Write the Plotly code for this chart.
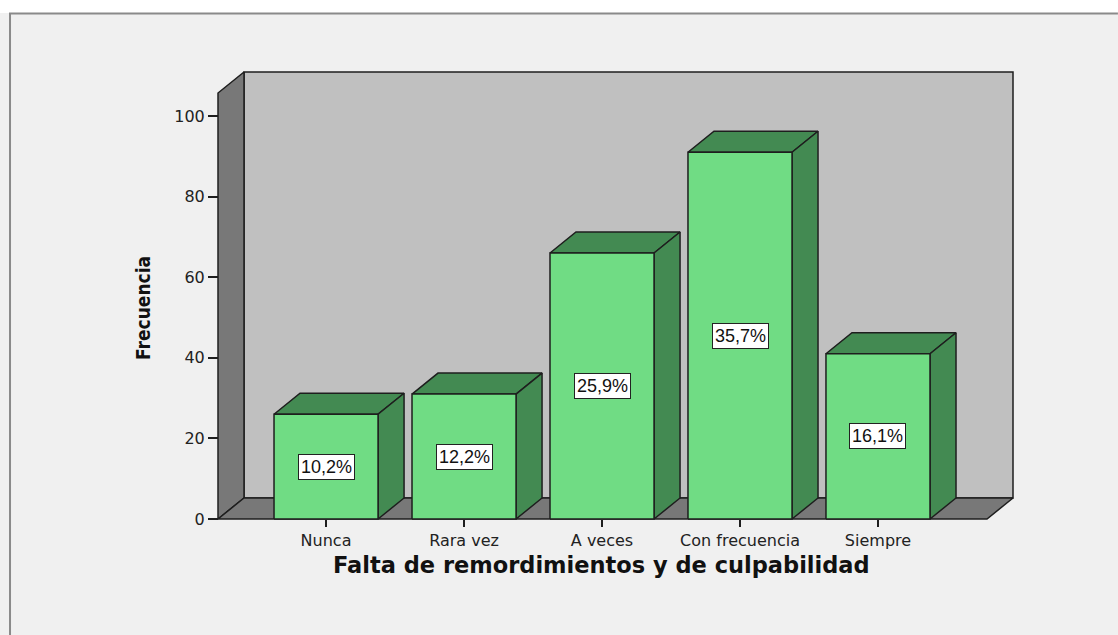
import plotly.graph_objects as go

# ---------------- data ----------------
categories = ["Nunca", "Rara vez", "A veces", "Con frecuencia", "Siempre"]
frecuencias = [26, 31, 66, 91, 41]
y_tick_vals = [0, 20, 40, 60, 80, 100]
x_title = "Falta de remordimientos y de culpabilidad"
y_title = "Frecuencia"

# ---------------- style / geometry ----------------
W, H = 1118, 635
PX_CAT = 138.0          # pixels per category step
PX_VAL = 4.03           # pixels per frequency unit
BAR_W = 0.754           # bar width in category units
DEPTH_X = 26 / PX_CAT   # 3D depth offset (x, category units)
DEPTH_Y = 21 / PX_VAL   # 3D depth offset (y, value units)
X_LEFT = -0.783
X_RIGHT = len(categories) - 1 + 0.79
WALL_TOP = 105.7

FRONT = "#70dc84"
SIDE = "#438a52"
BACK = "#c0c0c0"
WALL = "#787878"
EDGE = "#1e1e1e"
BG = "#f0f0f0"

PAD = 3
xmin = X_LEFT - PAD / PX_CAT
xmax = X_RIGHT + DEPTH_X + PAD / PX_CAT
ymin = -PAD / PX_VAL
ymax = WALL_TOP + DEPTH_Y + PAD / PX_VAL
ML = 218 - PAD
MB = H - (519 + PAD)
plot_w = (xmax - xmin) * PX_CAT
plot_h = (ymax - ymin) * PX_VAL
MT = H - MB - plot_h
MR = W - ML - plot_w


def px_x(p):
    return (p - ML) / plot_w


def px_y(p):
    return (H - MB - p) / plot_h


def poly(pts, color, lw=1.5):
    xs = [p[0] for p in pts] + [pts[0][0]]
    ys = [p[1] for p in pts] + [pts[0][1]]
    return go.Scatter(x=xs, y=ys, fill="toself", fillcolor=color, mode="lines",
                      line=dict(color=EDGE, width=lw), hoverinfo="skip",
                      showlegend=False)


fig = go.Figure()
dx, dy = DEPTH_X, DEPTH_Y
# back wall, left wall, floor
fig.add_trace(poly([(X_LEFT + dx, dy), (X_RIGHT + dx, dy),
                    (X_RIGHT + dx, WALL_TOP + dy), (X_LEFT + dx, WALL_TOP + dy)], BACK))
fig.add_trace(poly([(X_LEFT, 0), (X_LEFT + dx, dy),
                    (X_LEFT + dx, WALL_TOP + dy), (X_LEFT, WALL_TOP)], WALL))
fig.add_trace(poly([(X_LEFT, 0), (X_RIGHT, 0),
                    (X_RIGHT + dx, dy), (X_LEFT + dx, dy)], WALL))

total = sum(frecuencias)
for i, v in enumerate(frecuencias):
    xl, xr = i - BAR_W / 2, i + BAR_W / 2
    fig.add_trace(poly([(xl, v), (xr, v), (xr + dx, v + dy), (xl + dx, v + dy)], SIDE))
    fig.add_trace(poly([(xr, 0), (xr + dx, dy), (xr + dx, v + dy), (xr, v)], SIDE))
    fig.add_trace(poly([(xl, 0), (xr, 0), (xr, v), (xl, v)], FRONT))
    pct = f"{v / total * 100:.1f}".replace(".", ",") + "%"
    fig.add_annotation(x=i, y=v / 2, text=pct, showarrow=False,
                       font=dict(family="Liberation Sans, Arial, sans-serif", size=18, color="#111"),
                       bgcolor="white", bordercolor="#222", borderwidth=1, borderpad=2)

# axis titles
fig.add_annotation(xref="paper", yref="paper", x=px_x(602), y=px_y(565), text=x_title,
                   showarrow=False, xanchor="center", yanchor="middle",
                   font=dict(family="DejaVu Sans, sans-serif", size=22.5, color="#111", weight="bold"))
fig.add_annotation(xref="paper", yref="paper", x=px_x(143), y=px_y(308), text=y_title,
                   showarrow=False, textangle=-90, xanchor="center", yanchor="middle",
                   font=dict(family="Liberation Sans Narrow, DejaVu Sans Condensed, Arial Narrow, sans-serif",
                             size=19, color="#111", weight="bold"))

# frame decoration: white strip on top, gray border lines
fig.add_shape(type="rect", xref="paper", yref="paper", x0=px_x(0), x1=px_x(W),
              y0=px_y(13), y1=px_y(0), fillcolor="white", line=dict(width=0), layer="below")
fig.add_shape(type="line", xref="paper", yref="paper", x0=px_x(9), x1=px_x(W),
              y0=px_y(13.5), y1=px_y(13.5), line=dict(color="#8a8a8a", width=2))
fig.add_shape(type="line", xref="paper", yref="paper", x0=px_x(10), x1=px_x(10),
              y0=px_y(13), y1=px_y(H), line=dict(color="#8a8a8a", width=2))

tick_font = dict(family="DejaVu Sans, sans-serif", size=16, color="#222")
fig.update_layout(
    width=W, height=H, autosize=False,
    margin=dict(l=ML, r=MR, t=MT, b=MB, pad=0),
    paper_bgcolor=BG, plot_bgcolor="rgba(0,0,0,0)",
    showlegend=False,
    xaxis=dict(range=[xmin, xmax], tickmode="array", tickvals=list(range(len(categories))),
               ticktext=categories, ticks="outside", ticklen=7, tickwidth=1.5, tickcolor=EDGE,
               showline=False, showgrid=False, zeroline=False, tickfont=tick_font,
               anchor="free", position=(0 - ymin) / (ymax - ymin), fixedrange=True),
    yaxis=dict(range=[ymin, ymax], tickmode="array", tickvals=y_tick_vals,
               ticks="outside", ticklen=10, tickwidth=1.5, tickcolor=EDGE,
               showline=False, showgrid=False, zeroline=False, tickfont=tick_font,
               anchor="free", position=(X_LEFT - xmin) / (xmax - xmin), fixedrange=True),
)

fig.write_html("out.html", config={"displayModeBar": False},
               post_script="document.body.style.margin='0';document.body.style.overflow='hidden';")
